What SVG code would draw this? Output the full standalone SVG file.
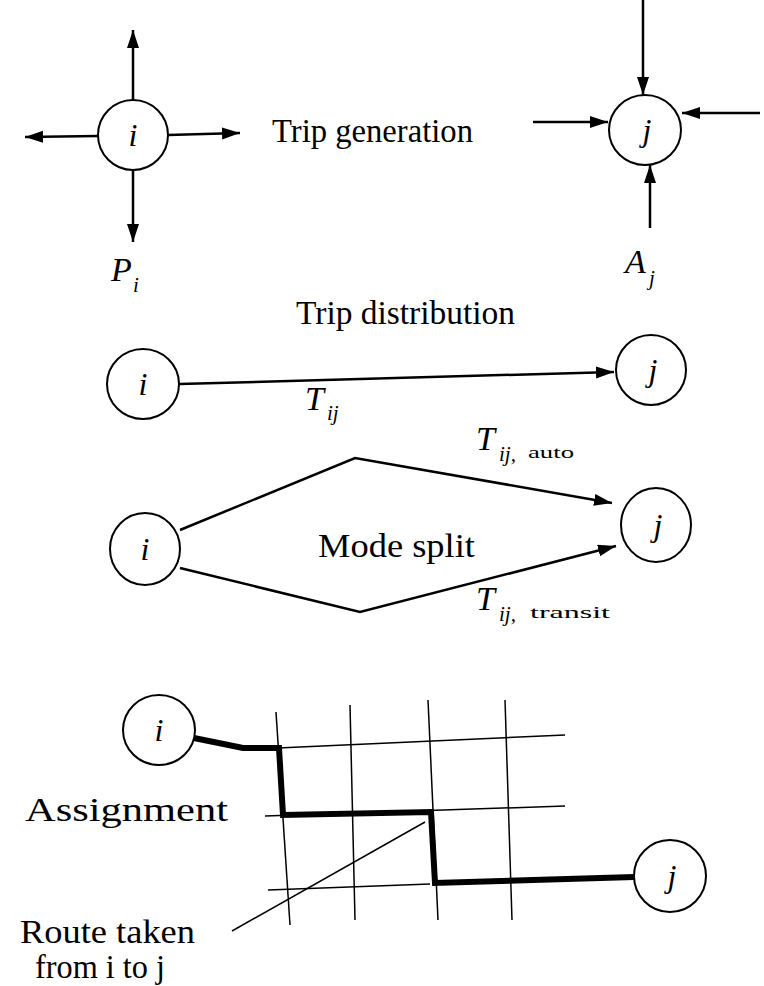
<svg xmlns="http://www.w3.org/2000/svg" width="764" height="986" viewBox="0 0 764 986">
<style>
  .node { fill: #fff; stroke: #000; stroke-width: 2; }
  .lbl { font-family: "Liberation Serif", "Times New Roman", serif; fill: #000; }
  .nl { font-family: "Liberation Serif", serif; font-style: italic; font-size: 32px; text-anchor: middle; fill: #000; }
  .it { font-family: "Liberation Serif", serif; font-style: italic; fill: #000; }
  .arr { fill: none; stroke: #000; stroke-width: 2.5; marker-end: url(#ah); }
  .grid { fill: none; stroke: #000; stroke-width: 1.5; }
  .route { fill: none; stroke: #000; stroke-width: 6; stroke-linejoin: miter; }
  .thin { fill: none; stroke: #000; stroke-width: 1.5; }
</style>
<defs>
  <marker id="ah" markerUnits="userSpaceOnUse" markerWidth="20" markerHeight="14" refX="18" refY="6" orient="auto">
    <path d="M0,0 L18,6 L0,12 z" fill="#000"/>
  </marker>
</defs>
<rect width="764" height="986" fill="#fff"/>

<g id="connectors">
  <line class="arr" x1="133" y1="100" x2="133" y2="30"/>
  <line class="arr" x1="98" y1="136" x2="25" y2="137"/>
  <line class="arr" x1="168" y1="135" x2="240" y2="133"/>
  <line class="arr" x1="133" y1="170" x2="133" y2="242"/>
  <line class="arr" x1="643" y1="0" x2="643" y2="95"/>
  <line class="arr" x1="533" y1="122" x2="608" y2="122"/>
  <line class="arr" x1="760" y1="113" x2="682" y2="113"/>
  <line class="arr" x1="650" y1="228" x2="650" y2="165"/>
  <line class="arr" x1="179" y1="384" x2="614" y2="372"/>
  <polyline class="arr" points="180,530 355,458 612,503"/>
  <polyline class="arr" points="180,568 360,612 616,546"/>
  <line class="grid" x1="276" y1="712" x2="290" y2="925"/>
  <line class="grid" x1="350" y1="705" x2="355" y2="920"/>
  <line class="grid" x1="428" y1="700" x2="438" y2="920"/>
  <line class="grid" x1="505" y1="700" x2="512" y2="920"/>
  <line class="grid" x1="278" y1="748" x2="565" y2="735"/>
  <line class="grid" x1="265" y1="816" x2="565" y2="806"/>
  <line class="grid" x1="268" y1="890" x2="430" y2="884"/>
  <polyline class="route" points="194,738 243,748 279,748 283,815 431,812 435,883 634,877"/>
  <line class="thin" x1="232" y1="931" x2="425" y2="822"/>
</g>

<g id="node-gen-i"><ellipse class="node" cx="133" cy="135" rx="35" ry="35"/><text class="nl" x="133" y="146">i</text></g>
<g id="node-gen-j"><ellipse class="node" cx="645" cy="130" rx="36" ry="35"/><text class="nl" x="647" y="141">j</text></g>
<g id="node-dist-i"><ellipse class="node" cx="143" cy="384" rx="36" ry="35"/><text class="nl" x="143" y="395">i</text></g>
<g id="node-dist-j"><ellipse class="node" cx="651" cy="370" rx="35" ry="35"/><text class="nl" x="653" y="381">j</text></g>
<g id="node-mode-i"><ellipse class="node" cx="145" cy="549" rx="35" ry="36"/><text class="nl" x="145" y="560">i</text></g>
<g id="node-mode-j"><ellipse class="node" cx="656" cy="525" rx="35" ry="37"/><text class="nl" x="658" y="536">j</text></g>
<g id="node-asg-i"><ellipse class="node" cx="159" cy="730" rx="36" ry="35"/><text class="nl" x="159" y="741">i</text></g>
<g id="node-asg-j"><ellipse class="node" cx="670" cy="876" rx="36" ry="36"/><text class="nl" x="672" y="887">j</text></g>

<g id="labels">
  <text class="lbl" x="272" y="142" font-size="33" textLength="201" lengthAdjust="spacingAndGlyphs">Trip generation</text>
  <text class="it" x="111" y="281" font-size="34">P</text><text class="it" x="133" y="292" font-size="21">i</text>
  <text class="it" x="625" y="273" font-size="34">A</text><text class="it" x="649" y="285" font-size="21">j</text>
  <text class="lbl" x="296" y="324" font-size="33" textLength="219" lengthAdjust="spacingAndGlyphs">Trip distribution</text>
  <text class="it" x="305" y="410" font-size="34">T</text><text class="it" x="327" y="420" font-size="21">ij</text>
  <text class="it" x="476" y="450" font-size="34">T</text><text class="it" x="499" y="461" font-size="21">ij,</text><text class="lbl" x="528" y="458" font-size="17" textLength="46" lengthAdjust="spacingAndGlyphs">auto</text>
  <text class="lbl" x="318" y="557" font-size="33" textLength="157" lengthAdjust="spacingAndGlyphs">Mode split</text>
  <text class="it" x="476" y="610" font-size="34">T</text><text class="it" x="499" y="621" font-size="21">ij,</text><text class="lbl" x="530" y="618" font-size="17" textLength="80" lengthAdjust="spacingAndGlyphs">transit</text>
  <text class="lbl" x="25" y="821" font-size="33" textLength="203" lengthAdjust="spacingAndGlyphs">Assignment</text>
  <text class="lbl" x="20" y="943" font-size="33" textLength="175" lengthAdjust="spacingAndGlyphs">Route taken</text>
  <text class="lbl" x="35" y="978" font-size="33" textLength="130" lengthAdjust="spacingAndGlyphs">from i to j</text>
</g>
</svg>
